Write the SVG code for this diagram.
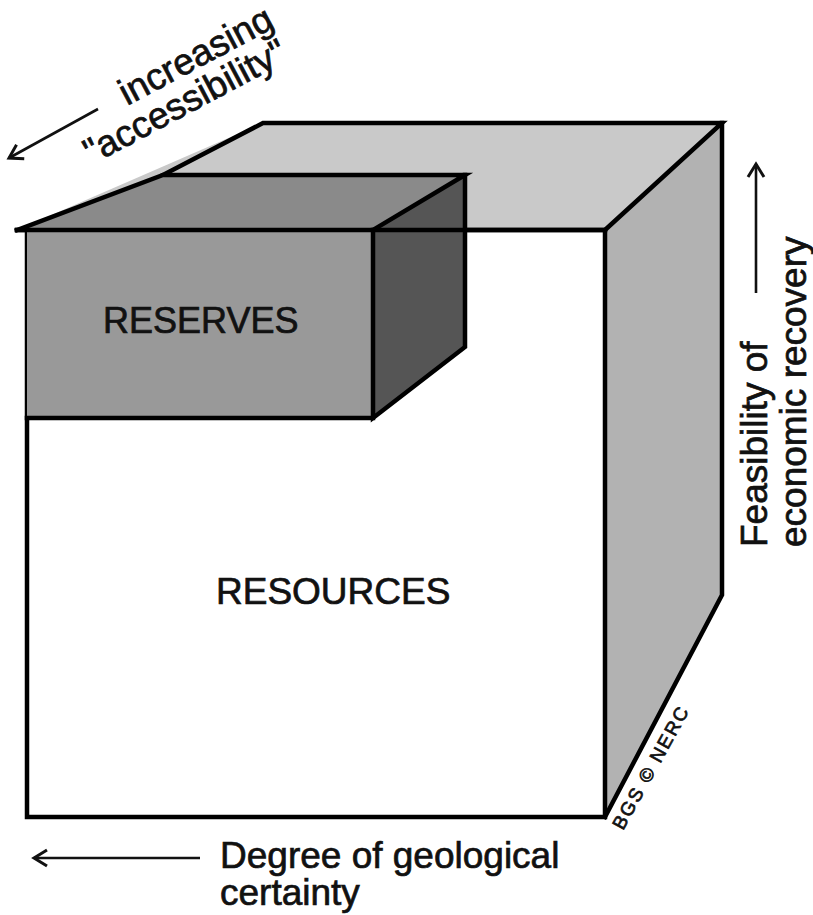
<svg xmlns="http://www.w3.org/2000/svg" width="813" height="915" viewBox="0 0 813 915">
  <style>
    .edge { fill: none; stroke: #000; stroke-width: 4.5; stroke-linejoin: miter; stroke-linecap: square; }
    .label { font-family: "Liberation Sans", Arial, sans-serif; fill: #111; stroke: #111; stroke-width: 0.7; }
    .axis { fill: none; stroke: #111; stroke-width: 2.6; }
  </style>
  <defs>
    <marker id="chevron" markerUnits="userSpaceOnUse" markerWidth="24" markerHeight="24" viewBox="-18 -12 24 24" refX="0" refY="0" orient="auto">
      <path d="M-13,-8 L0,0 L-13,8" fill="none" stroke="#111" stroke-width="3" stroke-linejoin="miter"/>
    </marker>
  </defs>

  <rect width="813" height="915" fill="#fff"/>

  <!-- Outer block: resources -->
  <g id="resources">
    <polygon points="17,230 263,123 722,123 605,230" fill="#c9c9c9"/>
    <polygon points="605,230 722,123 722,595 605,817" fill="#b2b2b2"/>
    <rect x="27" y="230" width="578" height="587" fill="#fff"/>
    <path class="edge" d="M163,175 L263,123 L722,123 L605,230"/>
    <path class="edge" d="M722,123 L722,595 L605,817" stroke-width="5.5"/>
    <path class="edge" d="M17,230 L605,230 L605,817 L27,817 L27,230"/>
    <text class="label" x="216" y="604" font-size="37">RESOURCES</text>
  </g>

  <!-- Inner block: reserves -->
  <g id="reserves">
    <rect x="27" y="230" width="346" height="188" fill="#999"/>
    <polygon points="17,230 163,175 465,175 373,230" fill="#8a8a8a"/>
    <polygon points="373,230 465,175 465,347 373,418" fill="#555"/>
    <path class="edge" d="M17,230 L163,175 L465,175 L373,230"/>
    <path class="edge" d="M465,175 L465,347 L373,418 L373,230"/>
    <path class="edge" d="M17,230 L605,230"/>
    <path class="edge" d="M27,418 L373,418"/>
    <text class="label" x="103" y="333" font-size="36">RESERVES</text>
  </g>

  <!-- Axis arrows -->
  <g id="connectors">
    <line class="axis" x1="98" y1="109" x2="9" y2="158" marker-end="url(#chevron)"/>
    <line class="axis" x1="756" y1="293" x2="756" y2="164" marker-end="url(#chevron)"/>
    <line class="axis" x1="200" y1="858" x2="34" y2="858" marker-end="url(#chevron)"/>
  </g>

  <!-- Axis labels -->
  <g id="accessibility-label">
    <text class="label" font-size="37" transform="translate(127,106) rotate(-28)">increasing</text>
    <text class="label" font-size="37" transform="translate(92,165) rotate(-28)">"accessibility"</text>
  </g>
  <g id="feasibility-label">
    <text class="label" font-size="37" transform="translate(767,547) rotate(-90)">Feasibility of</text>
    <text class="label" font-size="37" transform="translate(806,547) rotate(-90)">economic recovery</text>
  </g>
  <g id="certainty-label">
    <text class="label" font-size="37" x="220" y="868">Degree of geological</text>
    <text class="label" font-size="37" x="220" y="905">certainty</text>
  </g>
  <g id="credit">
    <text class="label" font-size="19" stroke-width="0.4" letter-spacing="2" transform="translate(623,831) rotate(-61)">BGS © NERC</text>
  </g>
</svg>
